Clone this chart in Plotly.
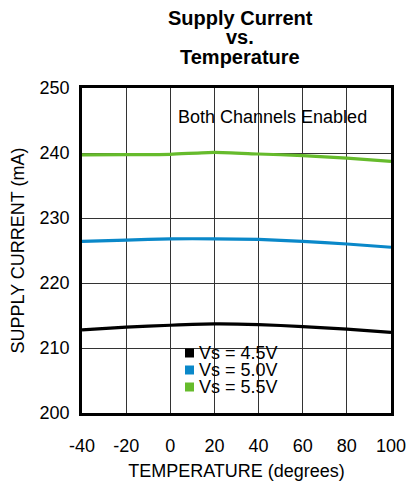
import plotly.graph_objects as go

# temperature (degrees) and supply current (mA) per supply voltage
temperature = [-40, -20, 0, 20, 40, 60, 80, 100]
temp_ticks = ["-40", "-20", "0", "20", "40", "60", "80", "100"]
vs_labels = ["Vs = 4.5V", "Vs = 5.0V", "Vs = 5.5V"]
current_45 = [212.8, 213.2, 213.5, 213.7, 213.6, 213.3, 212.9, 212.4]
current_50 = [226.4, 226.6, 226.8, 226.8, 226.7, 226.4, 226.0, 225.5]
current_55 = [239.7, 239.75, 239.8, 240.1, 239.85, 239.6, 239.2, 238.7]
colors = ["#000000", "#0a88c9", "#66bb2c"]

FONT = "Liberation Sans, Arial, sans-serif"
W, H = 408, 483
PLOT_L, PLOT_T, PLOT_R, PLOT_B = 82, 88, 391, 413  # plot area in page pixels
PW, PH = PLOT_R - PLOT_L, PLOT_B - PLOT_T


def px_x(p):
    return (p - PLOT_L) / PW


def px_y(p):
    return (PLOT_B - p) / PH


fig = go.Figure()
for name, ys, col in zip(vs_labels, [current_45, current_50, current_55], colors):
    fig.add_trace(
        go.Scatter(
            x=temperature,
            y=ys,
            mode="lines",
            name=name,
            line=dict(color=col, width=3.2, shape="spline", smoothing=0.6),
            showlegend=False,
        )
    )

# white boxes behind the in-plot labels hide the grid
fig.add_shape(type="rect", xref="paper", yref="paper",
              x0=px_x(172), x1=px_x(376), y0=px_y(138), y1=px_y(97),
              fillcolor="white", line_width=0, layer="between")
fig.add_shape(type="rect", xref="paper", yref="paper",
              x0=px_x(172), x1=px_x(299), y0=px_y(400), y1=px_y(338),
              fillcolor="white", line_width=0, layer="between")

fig.add_annotation(text="Both Channels Enabled", xref="paper", yref="paper",
                   x=px_x(272), y=px_y(117), xanchor="center", yanchor="middle",
                   showarrow=False, font=dict(family=FONT, size=18, color="black"))

# legend rows: coloured square + label
for i, (name, col) in enumerate(zip(vs_labels, colors)):
    cy = 353 + i * 17
    fig.add_shape(type="rect", xref="paper", yref="paper",
                  x0=px_x(185), x1=px_x(194), y0=px_y(cy + 4.5), y1=px_y(cy - 4.5),
                  fillcolor=col, line_width=0, layer="above")
    fig.add_annotation(text=name, xref="paper", yref="paper",
                       x=px_x(197), y=px_y(cy), xanchor="left", yanchor="middle",
                       showarrow=False, font=dict(family=FONT, size=18, color="black"))

# three-line title, tight line spacing
for txt, cy in zip(["Supply Current", "vs.", "Temperature"], [18, 37, 57]):
    fig.add_annotation(text=f"<b>{txt}</b>", xref="paper", yref="paper",
                       x=px_x(240), y=px_y(cy), xanchor="center", yanchor="middle",
                       showarrow=False, font=dict(family=FONT, size=20, color="black"))

axis_common = dict(
    showgrid=True, gridcolor="#333333", gridwidth=1,
    showline=True, mirror=True, linecolor="black", linewidth=2.5,
    zeroline=False, ticks="", automargin=False,
    tickfont=dict(family=FONT, size=18, color="black"),
)
fig.update_xaxes(
    range=[-40, 100], tickvals=temperature, ticktext=temp_ticks, ticklabelstandoff=15,
    title=dict(text="TEMPERATURE (degrees)", standoff=10,
               font=dict(family=FONT, size=18, color="black")),
    **axis_common,
)
fig.update_yaxes(
    range=[200, 250], tick0=200, dtick=10, ticklabelstandoff=6,
    title=dict(text="SUPPLY CURRENT (mA)", standoff=11,
               font=dict(family=FONT, size=18, color="black")),
    **axis_common,
)
fig.update_layout(
    width=W, height=H,
    margin=dict(l=PLOT_L, r=W - PLOT_R, t=PLOT_T, b=H - PLOT_B),
    paper_bgcolor="white", plot_bgcolor="white",
    showlegend=False,
)
# drop the default 8px body margin so the figure fills the window exactly
fig.write_html(
    "out.html",
    config={"displayModeBar": False},
    post_script="document.body.style.margin='0';document.body.style.overflow='hidden';",
)
